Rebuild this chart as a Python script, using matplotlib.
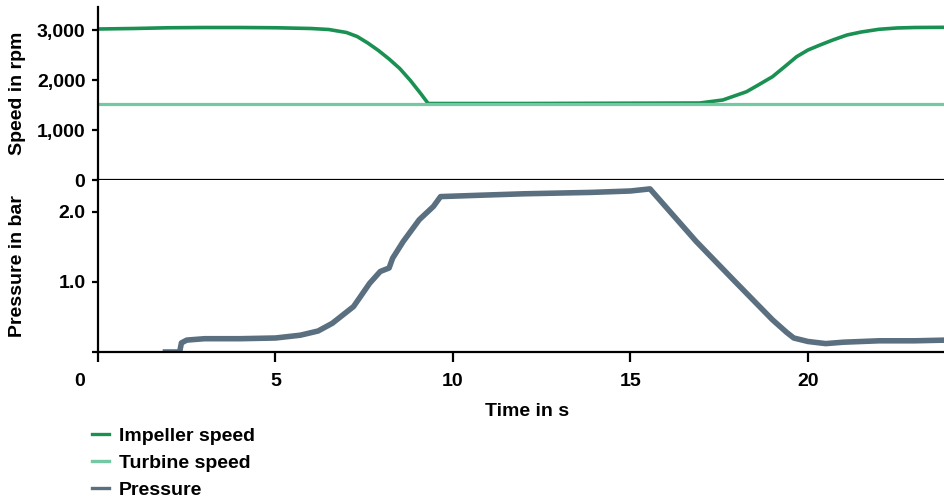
import matplotlib.pyplot as plt
from matplotlib.ticker import FuncFormatter
from matplotlib.transforms import ScaledTranslation

plt.rcParams['font.family'] = ['Liberation Sans', 'DejaVu Sans']
plt.rcParams['font.weight'] = 'bold'
plt.rcParams['axes.labelweight'] = 'bold'
plt.rcParams['font.size'] = 14

# Speed data (rpm)
t_impeller = [0, 1, 2, 3, 4, 5, 6, 6.5, 7.0, 7.3, 7.6, 7.9, 8.2, 8.5, 8.8, 9.1, 9.3,
              12.0, 16.95, 17.6, 18.27, 18.6, 19.0, 19.35, 19.68, 20.0, 20.34, 20.7, 21.1,
              21.5, 22.0, 22.5, 23.0, 23.9]
impeller_speed = [3020, 3030, 3045, 3050, 3050, 3045, 3030, 3010, 2950, 2870, 2740, 2590, 2420,
                  2230, 1990, 1720, 1530,
                  1530, 1540, 1600, 1766, 1900, 2066, 2270, 2466, 2600, 2700, 2800, 2900,
                  2960, 3014, 3040, 3050, 3054]
t_turbine = [0, 23.9]
turbine_speed = [1530, 1530]

# Pressure data (bar)
t_pressure = [1.9, 2.3, 2.35, 2.5, 3.0, 4.0, 5.0, 5.7, 6.2, 6.6, 7.2, 7.65, 7.95, 8.2, 8.3, 8.6,
              9.05, 9.45, 9.65, 10.8, 12.0, 13.9, 15.0, 15.55, 16.85, 17.9, 19.0, 19.4, 19.6, 20.0,
              20.5, 21.0, 22.0, 23.0, 23.9]
pressure = [0, 0, 0.13, 0.17, 0.19, 0.19, 0.2, 0.24, 0.3, 0.41, 0.65, 0.98, 1.15, 1.2, 1.34, 1.58,
            1.89, 2.08, 2.22, 2.24, 2.26, 2.28, 2.30, 2.33, 1.58, 1.03, 0.46, 0.28, 0.2, 0.15,
            0.12, 0.14, 0.16, 0.16, 0.17]

c_imp = '#1a9152'
c_tur = '#74c8a3'
c_pre = '#5a6f7f'

W, H = 945, 498
fig = plt.figure(figsize=(W / 100, H / 100), dpi=100)
left = 98 / W
width = 1 - left
ax1 = fig.add_axes([left, 1 - 180 / H, width, 173 / H])
ax2 = fig.add_axes([left, 1 - 352 / H, width, 172 / H])

ax1.plot(t_impeller, impeller_speed, color=c_imp, lw=2.6, label='Impeller speed', solid_joinstyle='round')
ax1.plot(t_turbine, turbine_speed, color=c_tur, lw=2.3, label='Turbine speed')
ax2.plot(t_pressure, pressure, color=c_pre, lw=4, label='Pressure', solid_joinstyle='round')

for ax in (ax1, ax2):
    ax.set_xlim(0, 23.86)
    for s in ('top', 'right'):
        ax.spines[s].set_visible(False)
    for s in ('left', 'bottom'):
        ax.spines[s].set_linewidth(1.6)
    ax.tick_params(width=1.6, length=4, pad=5)

ax1.set_ylim(0, 3460)
ax1.set_yticks([0, 1000, 2000, 3000])
ax1.yaxis.set_major_formatter(FuncFormatter(lambda v, p: f'{int(v):,}'))
ax1.set_xticks([])
ax1.set_ylabel('Speed in rpm')

ax2.set_ylim(0, 2.457)
ax2.set_yticks([0, 1.0, 2.0])
ax2.set_yticklabels(['', '1.0', '2.0'])
ax2.set_xticks([0, 5, 10, 15, 20])
ax2.tick_params(axis='x', length=7, pad=8)
ax2.set_ylabel('Pressure in bar')
ax2.set_xlabel('Time in s')
ax2.xaxis.set_label_coords((527 - 98) / 847, -0.295)

# shift the "0" x label to the left of the axis origin
lab0 = ax2.get_xticklabels()[0]
lab0.set_transform(lab0.get_transform() + ScaledTranslation(-18 / 100, 0, fig.dpi_scale_trans))

lx = (26 - 98) / 847
ax1.yaxis.set_label_coords(lx, 0.5)
ax2.yaxis.set_label_coords(lx, 0.5)

handles = ax1.get_lines() + ax2.get_lines()
leg = fig.legend(handles, [h.get_label() for h in handles], loc='upper left',
                 bbox_to_anchor=(92 / W, 1 - 427 / H), frameon=False,
                 handlelength=0.85, handletextpad=0.55, labelspacing=0.48,
                 borderpad=0, borderaxespad=0)
for ln in leg.get_lines():
    ln.set_linewidth(2.4)

fig.savefig('out.png', dpi=100)
